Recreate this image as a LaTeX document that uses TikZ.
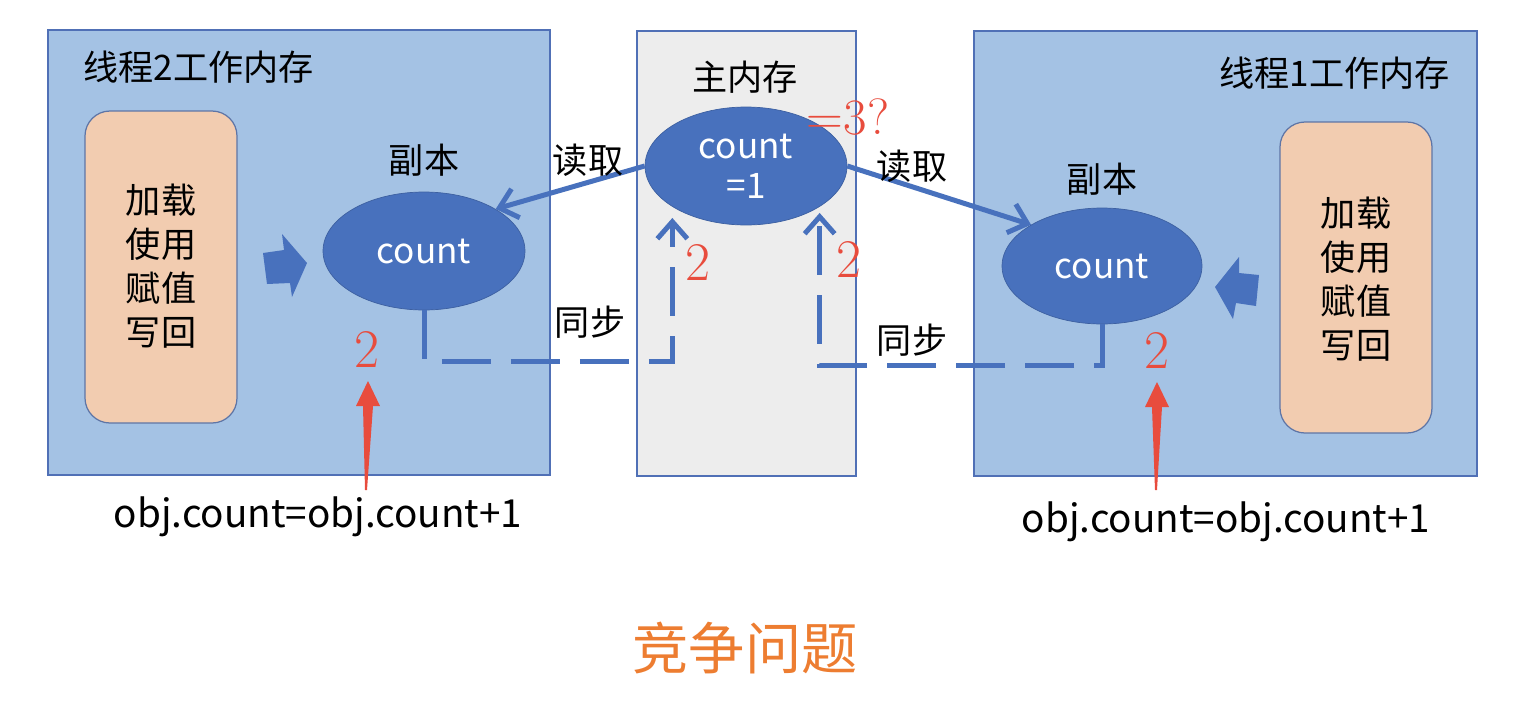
\documentclass[tikz,border=0pt]{standalone}
\usepackage{fontspec}
\usepackage{tikz}
\usetikzlibrary{positioning, arrows.meta, calc, shapes.geometric}
\newfontfamily\cjk{Noto Sans CJK SC}
\definecolor{boxblue}{RGB}{164,194,228}
\definecolor{edgeblue}{RGB}{80,112,182}
\definecolor{ellblue}{RGB}{72,113,189}
\definecolor{mainfill}{RGB}{237,237,237}
\definecolor{peach}{RGB}{242,204,176}
\definecolor{hotred}{RGB}{232,76,61}
\definecolor{raceorange}{RGB}{237,125,49}
\tikzset{
memory/.style={draw=edgeblue, fill=boxblue, line width=0.8pt}, % thread working memory
mainmem/.style={draw=edgeblue, fill=mainfill, line width=0.8pt}, % main memory column
ops/.style={draw=edgeblue!70!gray, fill=peach, rounded corners=0.5cm, line width=0.7pt}, % load/use/assign/write box
varell/.style={ellipse, draw=ellblue!85!black, fill=ellblue, minimum width=4.04cm, minimum height=2.36cm, inner sep=0pt, text=white, align=center, font=\cjk\fontsize{20}{23}\selectfont},
lbl/.style={inner sep=0pt, align=center, font=\cjk\fontsize{20}{25}\selectfont}, % black chinese labels
numred/.style={inner sep=0pt, text=hotred, font=\fontsize{31}{31}\selectfont}, % red values
readarrow/.style={draw=ellblue, line width=0.1cm, -{Straight Barb[length=0.34cm, width=0.6cm]}},
syncline/.style={readarrow, dash pattern=on 0.98cm off 0.4cm},
}
% thin red arrow, wide at the tip: #1 foot, #2 tip
\newcommand{\pokeup}[2]{\fill[hotred] (#2) -- ++(12,25) -- ++(-7,0) -- ($(#1)+(1,0)$) -- ($(#1)+(-1,0)$) -- ($(#2)+(-5,25)$) -- ++(-7,0) -- cycle;}

\begin{document}
\begin{tikzpicture}[x=0.02cm, y=-0.02cm]
\useasboundingbox (0,0) rectangle (1536,708);
% the three memories
\draw[memory] (48,30) rectangle (550,475);
\draw[mainmem] (637,31) rectangle (856,476);
\draw[memory] (974,31) rectangle (1477,476);
\draw[ops] (85,111) rectangle (237,423);
\draw[ops] (1280,122) rectangle (1432,433);
\node[lbl, anchor=west] (t2title) at (83,67) {线程2工作内存};
\node[lbl, anchor=east] (t1title) at (1450,73) {线程1工作内存};
\node[lbl] (maintitle) at (745,77) {主内存};
\node[lbl] (lops) at (161,266) {加载\\使用\\赋值\\写回};
\node[lbl] (rops) at (1356,279) {加载\\使用\\赋值\\写回};
% variables
\node[varell] (lcount) at (424,251) {count};
\node[varell] (mcount) at (746,166) {count\\=1};
\node[varell, minimum width=4cm, minimum height=2.32cm] (rcount) at (1102,266) {count};
\node[lbl, above=0.3cm of lcount] (lcopy) {副本};
\node[lbl, above=0.24cm of rcount] (rcopy) {副本};
% fat arrows from the operations
\fill[ellblue] (263,253) -- (284,250) -- (282,234) -- (307,263) -- (292,297) -- (290,283) -- (267,284) -- cycle;
\fill[ellblue] (1215,287) -- (1239,257) -- (1239,273) -- (1259,275) -- (1256,306) -- (1236,303) -- (1233,319) -- cycle;
% read and sync
\draw[readarrow] (mcount.west) -- (lcount.north east);
\draw[readarrow] (mcount.east) -- (rcount.north west);
\draw[syncline] (lcount.south) -- ++(0,51) -| ([shift={(-2,10)}]mcount.south west);
\draw[syncline] (rcount.south) -- ++(0,41) -| ([shift={(2,5)}]mcount.south east);
\node[lbl] (lread) at (588,160) {读取};
\node[lbl] (rread) at (912,166) {读取};
\node[lbl] (lsync) at (590,322) {同步};
\node[lbl] (rsync) at (912,340) {同步};
% red values
\node[numred] (ltwo) at (367,349) {2};
\node[numred] (mltwo) at (698,262) {2};
\node[numred] (mrtwo) at (849,259) {2};
\node[numred] (rtwo) at (1157,350) {2};
\node[numred, font=\fontsize{29}{29}\selectfont] (guess) at (848,117) {=3?};
\node[inner sep=0pt, font=\cjk\fontsize{22}{22}\selectfont] (lobj) at (318,517) {obj.count=obj.count+1};
\node[inner sep=0pt, font=\cjk\fontsize{22}{22}\selectfont] (robj) at (1226,522) {obj.count=obj.count+1};
\coordinate (lfoot) at (366,490);
\coordinate (ltip) at (368,381);
\coordinate (rfoot) at (1156,490);
\coordinate (rtip) at (1157,382);
\pokeup{lfoot}{ltip}
\pokeup{rfoot}{rtip}
\node[inner sep=0pt, text=raceorange, font=\cjk\fontsize{32}{32}\selectfont] (race) at (745,648) {竞争问题};
\end{tikzpicture}
\end{document}
